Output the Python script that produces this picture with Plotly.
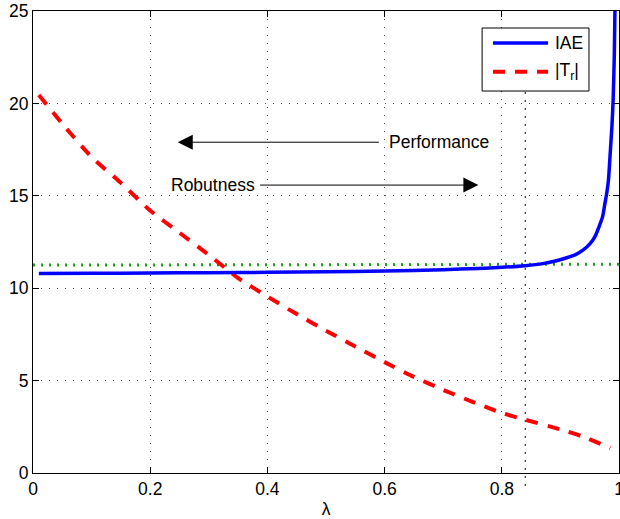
import plotly.graph_objects as go

# ---- data ----
lam_iae = [0.01, 0.1, 0.2, 0.3, 0.4, 0.5, 0.6, 0.7, 0.76, 0.8, 0.84, 0.87, 0.89, 0.908,
           0.925, 0.939, 0.951, 0.959, 0.966, 0.972, 0.976, 0.979, 0.982, 0.985, 0.988,
           0.990, 0.992, 0.9935]
iae = [10.80, 10.81, 10.82, 10.84, 10.86, 10.89, 10.93, 11.00, 11.07, 11.13, 11.22, 11.33,
       11.46, 11.62, 11.80, 12.07, 12.43, 12.79, 13.33, 13.87, 14.59, 15.13, 15.85, 17.3,
       18.8, 20.2, 22.6, 26.0]

lam_tr = [0.01, 0.05, 0.1, 0.15, 0.2, 0.25, 0.3, 0.35, 0.4, 0.45, 0.5, 0.55, 0.6, 0.65,
          0.7, 0.75, 0.8, 0.84, 0.9, 0.94, 0.985]
tr = [20.45, 18.9, 17.1, 15.7, 14.2, 13.0, 11.8, 10.55, 9.55, 8.6, 7.7, 6.85, 6.0, 5.2,
      4.5, 3.85, 3.25, 2.88, 2.36, 1.95, 1.35]

ref_x = [0.0, 1.0]
ref_y = [11.25, 11.3]

lam_mark = 0.84

x_ticks = [0, 0.2, 0.4, 0.6, 0.8, 1]
x_labels = ["0", "0.2", "0.4", "0.6", "0.8", "1"]
y_ticks = [0, 5, 10, 15, 20, 25]
y_labels = ["0", "5", "10", "15", "20", "25"]

FONT = "Liberation Sans, Arial, sans-serif"
FS = 17.5

fig = go.Figure()
fig.add_trace(go.Scatter(x=ref_x, y=ref_y, mode="lines",
                         line=dict(color="rgb(30,160,30)", width=3, dash="2px,6px"),
                         showlegend=False, hoverinfo="skip"))
fig.add_trace(go.Scatter(x=lam_tr, y=tr, mode="lines", name="|T<sub>r</sub>|",
                         line=dict(color="rgb(255,0,0)", width=4, dash="12px,10px", shape="spline", smoothing=0.6),
                         showlegend=False))
fig.add_trace(go.Scatter(x=lam_iae, y=iae, mode="lines", name="IAE",
                         line=dict(color="rgb(0,0,255)", width=3.5, shape="spline", smoothing=0.5),
                         showlegend=False))

axis_common = dict(
    showline=True, linecolor="black", linewidth=1, mirror="ticks",
    ticks="inside", ticklen=6, tickcolor="black", tickwidth=1,
    showgrid=True, gridcolor="rgb(70,70,70)", gridwidth=1, griddash="1px,7px",
    zeroline=False, tickfont=dict(family=FONT, size=FS, color="black"),
    automargin=False, ticklabeloverflow="allow",
)

fig.update_xaxes(range=[0, 1], tickvals=x_ticks, ticktext=x_labels,
                 title=dict(text="λ", font=dict(family=FONT, size=FS, color="black"), standoff=4),
                 **axis_common)
fig.update_yaxes(range=[0, 25], tickvals=y_ticks, ticktext=y_labels, **axis_common)

shapes = []
# vertical dotted marker line at lambda = 0.84
shapes.append(dict(type="line", xref="x", yref="paper", x0=lam_mark, x1=lam_mark,
                   y0=-0.028, y1=0.9, line=dict(color="black", width=1, dash="2px,6px"), layer="above"))
# custom legend box
shapes.append(dict(type="rect", xref="paper", yref="paper", x0=0.7664, x1=0.9488, y0=0.8268, y1=0.9632,
                   line=dict(color="black", width=1), fillcolor="white", layer="above"))
shapes.append(dict(type="line", xref="paper", yref="paper", x0=0.785, x1=0.879, y0=0.9307, y1=0.9307,
                   line=dict(color="rgb(0,0,255)", width=3.5), layer="above"))
shapes.append(dict(type="line", xref="paper", yref="paper", x0=0.785, x1=0.879, y0=0.8686, y1=0.8686,
                   line=dict(color="rgb(255,0,0)", width=4, dash="12px,10px"), layer="above"))

annotations = [
    dict(xref="paper", yref="paper", x=0.887, y=0.9307, text="IAE", showarrow=False,
         xanchor="left", yanchor="middle", font=dict(family=FONT, size=FS, color="black")),
    dict(xref="paper", yref="paper", x=0.887, y=0.8686, text="|T<sub>r</sub>|", showarrow=False,
         xanchor="left", yanchor="middle", font=dict(family=FONT, size=FS, color="black")),
    dict(x=0.247, y=17.9, ax=0.6934, ay=17.9, axref="x", ayref="y", text="Performance",
         showarrow=True, arrowhead=2, arrowsize=3, arrowwidth=1, arrowcolor="black",
         borderpad=10, font=dict(family=FONT, size=FS, color="black")),
    dict(x=0.760, y=15.58, ax=0.3064, ay=15.58, axref="x", ayref="y", text="Robutness",
         showarrow=True, arrowhead=2, arrowsize=3, arrowwidth=1, arrowcolor="black",
         borderpad=5, font=dict(family=FONT, size=FS, color="black")),
]

fig.update_layout(
    width=620, height=519,
    margin=dict(l=33, r=1, t=11, b=46),
    paper_bgcolor="white", plot_bgcolor="white",
    font=dict(family=FONT, size=FS, color="black"),
    shapes=shapes, annotations=annotations, showlegend=False,
)

fig.write_html("out.html", config={"displayModeBar": False},
               post_script="document.body.style.margin='0';document.body.style.padding='0';")
